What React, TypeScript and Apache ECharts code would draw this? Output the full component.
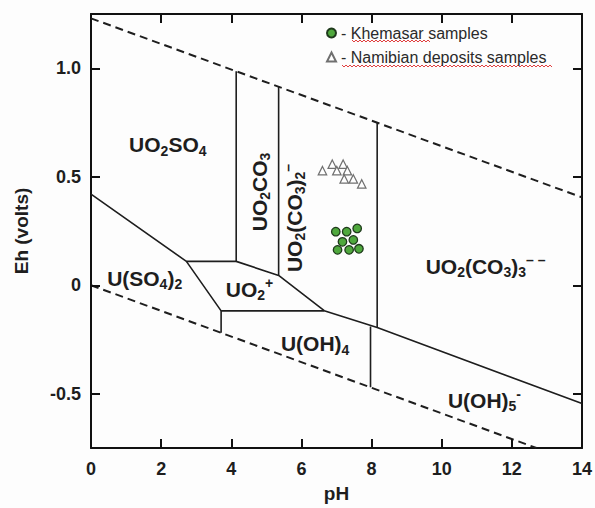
import React, { useEffect, useRef } from "react";
import * as echarts from "echarts";

// ---- data ----
const pHTicks = [2, 4, 6, 8, 10, 12];
const ehTicks = [-0.5, 0, 0.5, 1.0];
const pHRange = [0, 14];
const ehRange = [-0.75, 1.25];

// stability field boundaries [pH, Eh]
const upperWaterLine = [[0, 1.23], [14, 0.405]];
const lowerWaterLine = [[0, 0], [12.7, -0.75]];
const sulfateBoundary = [[0, 0.42], [2.72, 0.11], [3.71, -0.118]];
const mainBoundary = [[2.72, 0.11], [4.14, 0.11], [5.35, 0.045], [6.65, -0.117], [8.16, -0.195], [14, -0.545]];
const uo2Bottom = [[3.71, -0.118], [6.65, -0.118]];
const vLine1 = [[3.71, -0.118], [3.71, -0.219]];
const vLine2 = [[4.14, 0.986], [4.14, 0.11]];
const vLine3 = [[5.35, 0.915], [5.35, 0.045]];
const vLine4 = [[8.16, 0.748], [8.16, -0.195]];
const vLine5 = [[7.97, -0.19], [7.97, -0.47]];

const khemasarPH = [6.98, 7.29, 7.59, 7.17, 7.48, 7.03, 7.36, 7.64];
const khemasarEh = [0.247, 0.247, 0.262, 0.2, 0.209, 0.163, 0.163, 0.168];
const namibianPH = [6.6, 6.88, 7.19, 7.01, 7.31, 7.22, 7.48, 7.72];
const namibianEh = [0.528, 0.558, 0.558, 0.528, 0.528, 0.49, 0.49, 0.467];

const regionRich = [
  "{m|UO}{s|2}{m|SO}{s|4}",
  "{m|UO}{s|2}{m|CO}{s|3}",
  "{m|UO}{s|2}{m|(CO}{s|3}{m|)}{s|2}{p|\u2013}",
  "{m|U(SO}{s|4}{m|)}{s|2}",
  "{m|UO}{s|2}{p|+}",
  "{m|U(OH)}{s|4}",
  "{m|UO}{s|2}{m|(CO}{s|3}{m|)}{s|3}{p|\u2013 \u2013}",
  "{m|U(OH)}{s|5}{p|-}",
];
const regionPH = [2.19, 4.8, 5.8, 1.53, 4.52, 6.39, 11.25, 11.22];
const regionEh = [0.648, 0.43, 0.31, 0.032, -0.018, -0.27, 0.087, -0.53];
const regionRotate = [0, 90, 90, 0, 0, 0, 0, 0];

const seriesNames = ["Khemasar samples", "Namibian deposits samples"];

const FONT = "'Liberation Sans', Arial, sans-serif";
const INK = "#1e1e1e";

function wavy(x0: number, x1: number, y: number) {
  const pts: number[][] = [];
  let up = true;
  for (let x = x0; x <= x1; x += 2) {
    pts.push([x, up ? y - 1 : y + 1]);
    up = !up;
  }
  return pts;
}

export default function App() {
  const ref = useRef<HTMLDivElement>(null);
  useEffect(() => {
    if (!ref.current) return;
    const chart = echarts.init(ref.current, undefined, { renderer: "svg" });

    const solid = { color: INK, width: 1.6 };
    const dashed = { color: INK, width: 2, type: [8, 5] as any };
    const lineSeries = (name: string, data: number[][], style: any) => ({
      type: "line",
      name,
      data,
      symbol: "none",
      lineStyle: style,
      silent: true,
      z: 2,
    });

    // inside tick lengths (about 9 px) expressed in data units
    const dPH = (9 / 493) * (pHRange[1] - pHRange[0]);
    const dEh = (9 / 438) * (ehRange[1] - ehRange[0]);
    const tickMarks: any[] = [];
    pHTicks.forEach((v) => {
      tickMarks.push([{ coord: [v, ehRange[0]] }, { coord: [v, ehRange[0] + dEh] }]);
      tickMarks.push([{ coord: [v, ehRange[1]] }, { coord: [v, ehRange[1] - dEh] }]);
    });
    ehTicks.forEach((v) => {
      tickMarks.push([{ coord: [pHRange[0], v] }, { coord: [pHRange[0] + dPH, v] }]);
      tickMarks.push([{ coord: [pHRange[1], v] }, { coord: [pHRange[1] - dPH, v] }]);
    });

    const base = { fontWeight: "bold", fontFamily: FONT, color: INK, textBorderWidth: 0, textBorderColor: "transparent" };
    const rich = {
      m: { ...base, fontSize: 21, lineHeight: 26 },
      s: { ...base, fontSize: 14, lineHeight: 14, verticalAlign: "bottom" },
      p: { ...base, fontSize: 14, lineHeight: 14, verticalAlign: "top" },
    };

    const mkLine = () => ({ show: true, onZero: false, lineStyle: { color: "#111", width: 2 } });
    const mkTick = (custom?: number[]) => ({
      show: true,
      inside: true,
      length: 9,
      lineStyle: { color: "#111", width: 2 },
      ...(custom ? { customValues: custom } : {}),
    });

    chart.setOption({
      animation: false,
      backgroundColor: "#fdfdfd",
      grid: { left: 91, right: 11, top: 14, bottom: 56, containLabel: false },
      legend: {
        data: seriesNames,
        orient: "vertical",
        left: 326,
        top: 24,
        padding: 0,
        itemWidth: 9,
        itemHeight: 9,
        itemGap: 6,
        selectedMode: false,
        formatter: "- {name}",
        textStyle: { fontSize: 16, color: "#2a2a2a", fontFamily: FONT, lineHeight: 18 },
      },
      xAxis: [
        {
          type: "value",
          position: "bottom",
          min: pHRange[0],
          max: pHRange[1],
          interval: 2,
          name: "pH",
          nameLocation: "middle",
          nameGap: 36,
          nameTextStyle: { fontSize: 19, fontWeight: "bold", color: INK, fontFamily: FONT },
          axisLabel: { fontSize: 18, fontWeight: "bold", color: INK, fontFamily: FONT, margin: 12 },
          axisLine: mkLine(),
          axisTick: mkTick(),
          splitLine: { show: false },
        },
        {
          type: "value",
          position: "top",
          min: pHRange[0],
          max: pHRange[1],
          interval: 2,
          axisLabel: { show: false },
          axisLine: mkLine(),
          axisTick: mkTick(),
          splitLine: { show: false },
        },
      ],
      yAxis: [
        {
          type: "value",
          position: "left",
          min: ehRange[0],
          max: ehRange[1],
          name: "Eh (volts)",
          nameLocation: "middle",
          nameGap: 60,
          nameTextStyle: { fontSize: 19, fontWeight: "bold", color: INK, fontFamily: FONT },
          axisLabel: {
            customValues: ehTicks,
            fontSize: 18,
            fontWeight: "bold",
            color: INK,
            fontFamily: FONT,
            margin: 10,
            formatter: (v: number) => (v === 0 ? "0" : v.toFixed(1)),
          },
          axisLine: mkLine(),
          axisTick: mkTick(ehTicks),
          splitLine: { show: false },
        },
        {
          type: "value",
          position: "right",
          min: ehRange[0],
          max: ehRange[1],
          axisLabel: { show: false, customValues: ehTicks },
          axisLine: mkLine(),
          axisTick: mkTick(ehTicks),
          splitLine: { show: false },
        },
      ],
      graphic: [
        { type: "polyline", shape: { points: wavy(352, 430, 41) }, style: { stroke: "#e04040", lineWidth: 1, fill: "none" }, silent: true },
        { type: "polyline", shape: { points: wavy(342, 553, 66) }, style: { stroke: "#e04040", lineWidth: 1, fill: "none" }, silent: true },
      ],
      series: [
        {
          ...lineSeries("upper water", upperWaterLine, dashed),
          clip: false,
          markLine: {
            silent: true,
            symbol: "none",
            label: { show: false },
            lineStyle: { color: "#111", width: 2, type: "solid" },
            data: tickMarks,
          },
        },
        lineSeries("lower water", lowerWaterLine, dashed),
        lineSeries("sulfate boundary", sulfateBoundary, solid),
        lineSeries("main boundary", mainBoundary, solid),
        lineSeries("UO2+ bottom", uo2Bottom, solid),
        lineSeries("v1", vLine1, solid),
        lineSeries("v2", vLine2, solid),
        lineSeries("v3", vLine3, solid),
        lineSeries("v4", vLine4, solid),
        lineSeries("v5", vLine5, solid),
        {
          type: "scatter",
          name: "regions",
          silent: true,
          symbolSize: 0,
          z: 3,
          itemStyle: { color: "transparent", opacity: 0 },
          label: { show: true, position: "inside", color: INK, textBorderWidth: 0, opacity: 1, rich },
          data: regionPH.map((p, i) => ({
            value: [p, regionEh[i]],
            label: { formatter: regionRich[i], rotate: regionRotate[i], rich },
          })),
        },
        {
          type: "scatter",
          name: seriesNames[0],
          symbol: "circle",
          symbolSize: 8.5,
          z: 5,
          itemStyle: { color: "#4fa83d", borderColor: "#1f3a1c", borderWidth: 1.3, opacity: 1 },
          data: khemasarPH.map((p, i) => [p, khemasarEh[i]]),
        },
        {
          type: "scatter",
          name: seriesNames[1],
          symbol: "triangle",
          symbolSize: 8.5,
          z: 5,
          itemStyle: { color: "#ffffff", borderColor: "#707070", borderWidth: 1.2, opacity: 1 },
          data: namibianPH.map((p, i) => [p, namibianEh[i]]),
        },
      ],
    });
    return () => chart.dispose();
  }, []);
  return (
    <div
      ref={ref}
      style={{ position: "absolute", left: 0, top: 0, width: 595, height: 508 }}
    />
  );
}
